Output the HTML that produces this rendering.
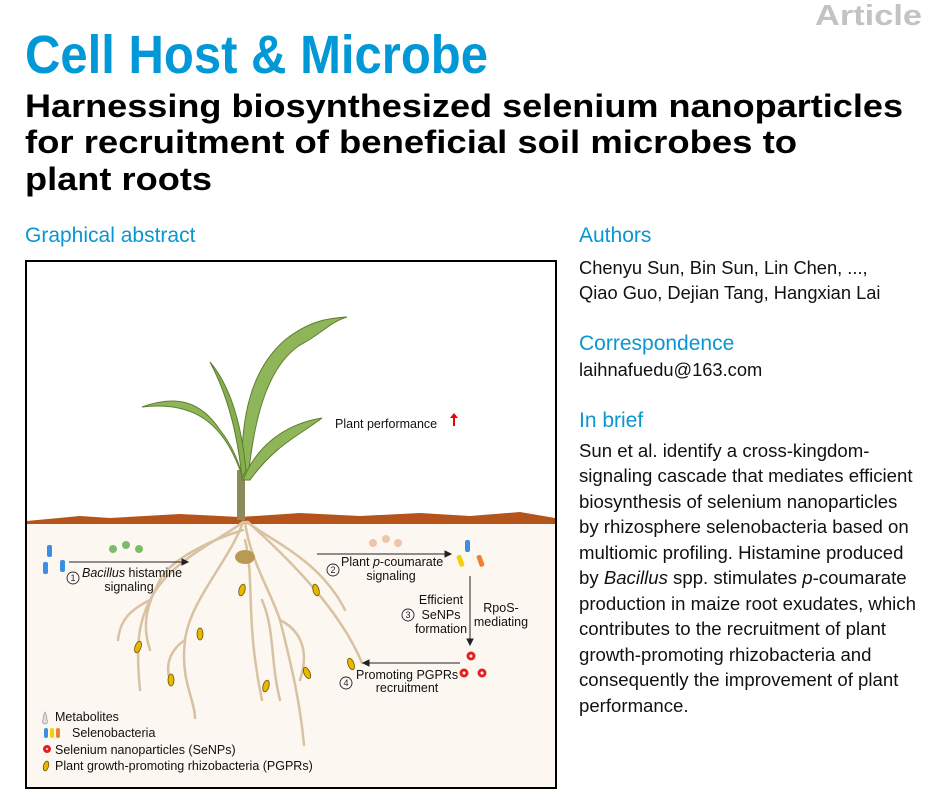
<!DOCTYPE html>
<html><head><meta charset="utf-8"><style>
html,body{margin:0;padding:0;background:#fff;}
body{width:945px;height:798px;overflow:hidden;position:relative;font-family:"Liberation Sans",Arial,sans-serif;}
svg{position:absolute;left:0;top:0;}
</style></head><body>
<svg width="945" height="798" viewBox="0 0 945 798" xmlns="http://www.w3.org/2000/svg" font-family="Liberation Sans, Arial, sans-serif">
<text x="922" y="25" text-anchor="end" font-size="29" font-weight="bold" fill="#c3c3c3" textLength="107" lengthAdjust="spacingAndGlyphs">Article</text>
<text x="25" y="73" font-size="54" font-weight="bold" fill="#0098d6" textLength="463" lengthAdjust="spacingAndGlyphs">Cell Host &amp; Microbe</text>
<g font-size="32" font-weight="bold" fill="#000">
<text x="25" y="117" textLength="878" lengthAdjust="spacingAndGlyphs">Harnessing biosynthesized selenium nanoparticles</text>
<text x="25" y="153" textLength="772" lengthAdjust="spacingAndGlyphs">for recruitment of beneficial soil microbes to</text>
<text x="25" y="190" textLength="187" lengthAdjust="spacingAndGlyphs">plant roots</text>
</g>
<g font-size="21" fill="#0a96d0">
<text x="25" y="242">Graphical abstract</text>
<text x="579" y="242">Authors</text>
<text x="579" y="350">Correspondence</text>
<text x="579" y="427">In brief</text>
</g>
<g font-size="18.3" fill="#111">
<text x="579" y="274">Chenyu Sun, Bin Sun, Lin Chen, ...,</text>
<text x="579" y="299">Qiao Guo, Dejian Tang, Hangxian Lai</text>
<text x="579" y="376">laihnafuedu@163.com</text>
</g>
<g font-size="18.6" fill="#111">
<text x="579" y="457">Sun et al. identify a cross-kingdom-</text>
<text x="579" y="482">signaling cascade that mediates efficient</text>
<text x="579" y="508">biosynthesis of selenium nanoparticles</text>
<text x="579" y="533">by rhizosphere selenobacteria based on</text>
<text x="579" y="559">multiomic profiling. Histamine produced</text>
<text x="579" y="584">by <tspan font-style="italic">Bacillus</tspan> spp. stimulates <tspan font-style="italic">p</tspan>-coumarate</text>
<text x="579" y="610">production in maize root exudates, which</text>
<text x="579" y="635">contributes to the recruitment of plant</text>
<text x="579" y="661">growth-promoting rhizobacteria and</text>
<text x="579" y="686">consequently the improvement of plant</text>
<text x="579" y="712">performance.</text>
</g>
<!-- diagram box -->
<rect x="26" y="261" width="530" height="527" fill="#fff" stroke="#000" stroke-width="2"/>
<rect x="27" y="520" width="528" height="267" fill="#fcf7f1"/>
<path d="M27 521 L80 516 L110 518 L180 514 L240 517 L300 513 L360 516 L420 513 L470 516 L520 512 L555 518 L555 524 L27 524 Z" fill="#b5541a"/>
<!-- plant -->
<rect x="237" y="470" width="8" height="50" fill="#8d8a5c"/>
<path d="M242 480 C240 420 250 370 285 340 C310 320 330 318 347 317 C330 322 320 335 300 345 C270 365 255 410 248 478 Z" fill="#8fb55a" stroke="#5d7f2c" stroke-width="1"/>
<path d="M242 478 C238 440 230 400 210 362 C225 380 240 410 246 470 Z" fill="#86ae50" stroke="#5d7f2c" stroke-width="1"/>
<path d="M240 470 C225 430 200 400 142 407 C175 395 200 400 220 430 C232 445 238 460 242 475 Z" fill="#8fb55a" stroke="#5d7f2c" stroke-width="1"/>
<path d="M243 480 C255 450 280 425 322 418 C300 435 275 445 250 480 Z" fill="#8fb55a" stroke="#5d7f2c" stroke-width="1"/>
<!-- roots -->
<g fill="none" stroke="#d8c2a2" stroke-width="2.5" stroke-linecap="round">
<path d="M243 522 C220 540 170 560 150 600 C140 620 135 640 140 690"/>
<path d="M243 522 C230 560 190 600 185 640 C180 680 195 700 195 718"/>
<path d="M245 522 C250 560 270 590 280 620 C290 660 300 700 304 745"/>
<path d="M247 522 C270 540 320 560 345 610"/>
<path d="M248 522 C290 560 340 610 362 663"/>
<path d="M243 530 C210 540 170 560 160 580"/>
<path d="M245 540 C255 580 245 620 262 700"/>
<path d="M150 600 C130 610 120 620 118 640"/>
<path d="M185 640 C170 650 165 665 170 680"/>
<path d="M280 620 C300 630 310 650 300 680"/>
<path d="M160 580 C150 600 140 620 150 650"/>
<path d="M262 600 C275 630 270 660 280 700"/>
</g>
<ellipse cx="245" cy="557" rx="10" ry="7" fill="#b89a55"/>
<!-- PGPRs -->
<g fill="#e8b800" stroke="#6b5000" stroke-width="0.8">
<ellipse cx="242" cy="590" rx="3" ry="6" transform="rotate(15 242 590)"/>
<ellipse cx="316" cy="590" rx="3" ry="6" transform="rotate(-15 316 590)"/>
<ellipse cx="200" cy="634" rx="3" ry="6"/>
<ellipse cx="138" cy="647" rx="3" ry="6" transform="rotate(20 138 647)"/>
<ellipse cx="171" cy="680" rx="3" ry="6"/>
<ellipse cx="266" cy="686" rx="3" ry="6" transform="rotate(15 266 686)"/>
<ellipse cx="351" cy="664" rx="3" ry="6" transform="rotate(-20 351 664)"/>
<ellipse cx="307" cy="673" rx="3" ry="6" transform="rotate(-25 307 673)"/>
<ellipse cx="46" cy="766" rx="2.5" ry="5" transform="rotate(15 46 766)"/>
</g>
<!-- droplets -->
<g fill="#7dbb6a"><circle cx="113" cy="549" r="4"/><circle cx="126" cy="545" r="4"/><circle cx="139" cy="549" r="4"/></g>
<g fill="#f0c4a8"><circle cx="373" cy="543" r="4"/><circle cx="386" cy="539" r="4"/><circle cx="398" cy="543" r="4"/></g>
<!-- bacteria -->
<g fill="#3a8fe0"><rect x="47" y="545" width="5" height="12" rx="2"/><rect x="43" y="562" width="5" height="12" rx="2"/><rect x="60" y="560" width="5" height="12" rx="2"/><rect x="465" y="540" width="5" height="12" rx="2"/><rect x="44" y="728" width="4" height="10" rx="2"/></g>
<g><rect x="458" y="555" width="5" height="12" rx="2" fill="#f2d200" transform="rotate(-20 460 561)"/><rect x="478" y="555" width="5" height="12" rx="2" fill="#f08030" transform="rotate(-20 480 561)"/>
<rect x="50" y="728" width="4" height="10" rx="2" fill="#f2d200"/><rect x="56" y="728" width="4" height="10" rx="2" fill="#f08030"/></g>
<!-- SeNPs -->
<g fill="none" stroke="#e52020" stroke-width="3"><circle cx="471" cy="656" r="3"/><circle cx="464" cy="673" r="3"/><circle cx="482" cy="673" r="3"/><circle cx="47" cy="749" r="2.5"/></g>
<path d="M45 712 Q47 716 47 720 A2.5 2.5 0 1 1 43 720 Q43 716 45 712Z" fill="#ddd" stroke="#888" stroke-width="0.6"/>
<!-- arrows -->
<g stroke="#222" stroke-width="1" fill="#222">
<line x1="69" y1="562" x2="183" y2="562"/><path d="M188 562 L182 559 L182 565Z"/>
<line x1="317" y1="554" x2="446" y2="554"/><path d="M451 554 L445 551 L445 557Z"/>
<line x1="470" y1="576" x2="470" y2="640"/><path d="M470 645 L467 639 L473 639Z"/>
<line x1="460" y1="663" x2="368" y2="663"/><path d="M363 663 L369 660 L369 666Z"/>
</g>
<g font-size="12.5" fill="#111">
<text x="335" y="428">Plant performance</text>
<text x="82" y="577"><tspan font-style="italic">Bacillus</tspan> histamine</text>
<text x="129" y="591" text-anchor="middle">signaling</text>
<text x="341" y="566">Plant <tspan font-style="italic">p</tspan>-coumarate</text>
<text x="391" y="580" text-anchor="middle">signaling</text>
<text x="441" y="604" text-anchor="middle">Efficient</text>
<text x="441" y="619" text-anchor="middle">SeNPs</text>
<text x="441" y="633" text-anchor="middle">formation</text>
<text x="501" y="612" text-anchor="middle">RpoS-</text>
<text x="501" y="626" text-anchor="middle">mediating</text>
<text x="356" y="679">Promoting PGPRs</text>
<text x="407" y="692" text-anchor="middle">recruitment</text>
<text x="55" y="721">Metabolites</text>
<text x="72" y="737">Selenobacteria</text>
<text x="55" y="754">Selenium nanoparticles (SeNPs)</text>
<text x="55" y="770">Plant growth-promoting rhizobacteria (PGPRs)</text>
</g>
<g fill="none" stroke="#223" stroke-width="0.9"><circle cx="73" cy="578" r="6"/><circle cx="333" cy="570" r="6"/><circle cx="408" cy="615" r="6"/><circle cx="346" cy="683" r="6"/></g>
<g font-size="9" fill="#223" text-anchor="middle"><text x="73" y="581">1</text><text x="333" y="573">2</text><text x="408" y="618">3</text><text x="346" y="686">4</text></g>
<path d="M453 426 L453 418 L450 418 L454 413 L458 418 L455 418 L455 426Z" fill="#e00"/>
</svg>
</body></html>
